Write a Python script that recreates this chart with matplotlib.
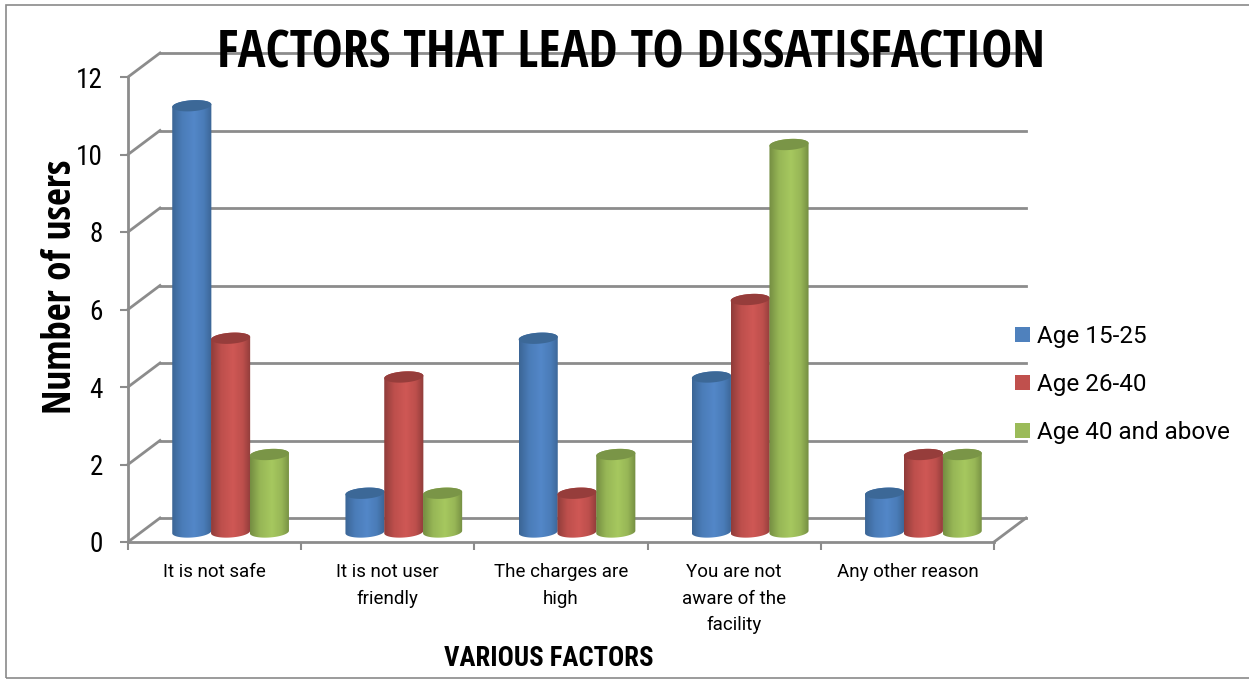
import numpy as np
import matplotlib
matplotlib.use("Agg")
import matplotlib.pyplot as plt
from matplotlib.colors import LinearSegmentedColormap
from matplotlib.patches import Patch, Polygon, Rectangle

plt.rcParams['font.family'] = ['Roboto', 'DejaVu Sans']
NARROW = ['Roboto Condensed', 'DejaVu Sans']
HEADING = ['Open Sans Condensed', 'Roboto Condensed', 'DejaVu Sans']

factors = ['It is not safe', 'It is not user\nfriendly', 'The charges are\nhigh',
           'You are not\naware of the\nfacility', 'Any other reason']
age_15_25 = [11, 1, 5, 4, 1]
age_26_40 = [5, 4, 1, 6, 2]
age_40_up = [2, 1, 2, 10, 2]
series_names = ['Age 15-25', 'Age 26-40', 'Age 40 and above']
y_ticks = [0, 2, 4, 6, 8, 10, 12]

# edge, mid, highlight, top cap, legend swatch
palette = [('#3b6595', '#4a7cb8', '#5387c8', '#3c6897', '#4f81bd'),
           ('#8f3c3a', '#bd4f4c', '#cf5855', '#963d3b', '#c0504d'),
           ('#748d42', '#97b656', '#a6c85f', '#7a9547', '#9bbb59')]
GRID = '#8c8c8c'

W, H = 1249, 679
fig = plt.figure(figsize=(W / 100, H / 100), dpi=100)
fig.patch.set_facecolor('white')
fig.add_artist(Rectangle((6 / W, 1 - 678 / H), 1.1, (678 - 5) / H, transform=fig.transFigure,
                         fill=False, edgecolor='#8a8a8a', lw=1.2))

ax = fig.add_axes([128 / W, 1 - 542 / H, 866 / W, 465 / H])
ax.set_xlim(0, 5)
ax.set_ylim(0, 12)
ax.patch.set_alpha(0)
px_x = ax.bbox.width / 5
px_y = ax.bbox.height / 12

# pseudo-3D depth of the chart box, in data units
dx = 32 / px_x
dy = 24 / px_y

# back wall gridlines and the slanted side lines
for v in y_ticks:
    ax.plot([dx, 5 + dx], [v + dy, v + dy], color=GRID, lw=2, clip_on=False, zorder=1)
    ax.plot([0, dx], [v, v + dy], color=GRID, lw=2, clip_on=False, zorder=1)
ax.plot([5, 5 + dx], [0, dy], color=GRID, lw=2, clip_on=False, zorder=1)


def ellipse_half(cx, cy, start, stop, rx=19.6, ry=5.5, tilt=np.radians(4)):
    t = np.linspace(start, stop, 60)
    ex = rx * np.cos(t)
    ey = ry * np.sin(t)
    xs = ex * np.cos(tilt) - ey * np.sin(tilt)
    ys = ex * np.sin(tilt) + ey * np.cos(tilt)
    return np.column_stack([cx + xs / px_x, cy + ys / px_y])


def cylinder(x, value, colours, z):
    edge, mid, bright, cap, _ = colours
    base = 10 / px_y
    half = 19.6 / px_x
    body = np.vstack([ellipse_half(x, base, np.pi, 2 * np.pi),
                      ellipse_half(x, value + base, 0, np.pi)])
    outline = Polygon(body, closed=True, fc='none', ec='none', transform=ax.transData)
    ax.add_patch(outline)
    cmap = LinearSegmentedColormap.from_list(
        'shade', [(0, edge), (0.25, mid), (0.55, bright), (0.8, mid), (1, edge)])
    grad = np.linspace(0, 1, 128).reshape(1, -1)
    im = ax.imshow(grad, cmap=cmap, aspect='auto', interpolation='bilinear', zorder=z,
                   extent=(x - half, x + half, -1, value + 2))
    im.set_clip_path(outline)
    top = Polygon(ellipse_half(x, value + base, 0, 2 * np.pi), closed=True, fc=cap, ec='none',
                  zorder=z + 0.1, clip_on=False)
    ax.add_patch(top)


bar_step = 38.8 / px_x
x_shift = 16 / px_x
z = 3
for i in range(len(factors)):
    for j, vals in enumerate([age_15_25, age_26_40, age_40_up]):
        cylinder(i + 0.5 + x_shift + (j - 1) * bar_step, vals[i], palette[j], z)
        z += 1

ax.set_xlim(0, 5)
ax.set_ylim(0, 12)

# axes, ticks and labels
for side in ['top', 'right']:
    ax.spines[side].set_visible(False)
for side in ['left', 'bottom']:
    ax.spines[side].set_color(GRID)
    ax.spines[side].set_linewidth(2)
ax.set_yticks(y_ticks)
ax.tick_params(axis='y', length=6, width=1.5, color=GRID, labelsize=19.5, pad=12, labelcolor='black')
for lab in ax.get_yticklabels():
    lab.set_family(NARROW)
ax.set_xticks(range(6))
ax.set_xticklabels([])
ax.tick_params(axis='x', which='major', length=6, width=1.5, color=GRID)
ax.set_xticks(np.arange(5) + 0.5, minor=True)
ax.set_xticklabels(factors, minor=True, fontsize=13.5, linespacing=1.62, color='black')
ax.tick_params(axis='x', which='minor', length=0, pad=15)

fig.text(631 / W, 1 - 54 / H, 'FACTORS THAT LEAD TO DISSATISFACTION', ha='center', va='center',
         fontsize=37.6, fontweight='bold', family=HEADING, color='black', zorder=20)
fig.text(549 / W, 1 - 658 / H, 'VARIOUS FACTORS', ha='center', va='center',
         fontsize=19.3, fontweight='bold', family=NARROW, color='black')
fig.text(61 / W, 1 - 287 / H, 'Number of users', ha='center', va='center', rotation=90,
         fontsize=28, fontweight='bold', family=HEADING, color='black')

handles = [Patch(facecolor=c[4], edgecolor='none') for c in palette]
fig.legend(handles, series_names, loc='upper left', bbox_to_anchor=(1015 / W, 1 - 325 / H),
           frameon=False, fontsize=17.5, handlelength=0.62, handleheight=0.62, handletextpad=0.29,
           labelspacing=1.03, borderpad=0, borderaxespad=0)

fig.savefig('out.png', dpi=100)
